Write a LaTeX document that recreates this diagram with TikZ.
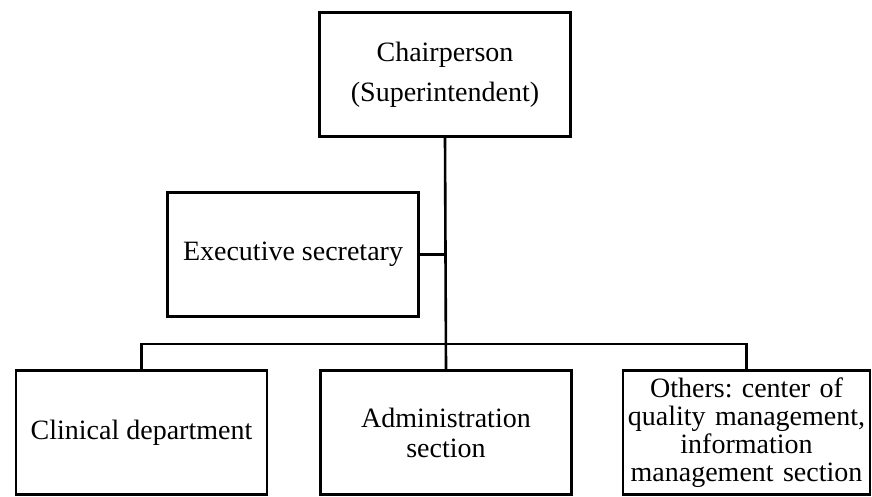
\documentclass[tikz,border=0pt]{standalone}
\usepackage{fontspec}
\setmainfont{Liberation Serif}
\frenchspacing
\usetikzlibrary{positioning,calc}

\begin{document}
\begin{tikzpicture}[
    x=1pt, y=-1pt,
    unit/.style = {rectangle, draw, line width=2.6pt, minimum width=251pt, minimum height=124pt, inner sep=2pt, align=center, font=\fontsize{28}{40}\selectfont}
]
    \useasboundingbox (0,0) rectangle (872,496);
    \node[unit] (chair) at (445,74.5) {Chairperson \\ (Superintendent)};
    \node[unit] (exec) at (293,254.5) {Executive secretary};
    \node[unit] (clinical) at (141.5,432.5) {Clinical department};
    \node[unit, font=\fontsize{28}{30}\selectfont] (admin) at (446,432.5) {Administration \\ section};
    \node[unit, minimum width=247pt, text width=243pt, font=\fontsize{28}{28}\selectfont] (others) at (746.5,432.5) {Others: center of \\ quality management, \\ information \\ management section};
    \coordinate (bus) at (446,344);
    \draw[line width=2.6pt] (chair.south) -- (admin.north);
    \draw[line width=2.6pt] (exec.east) -- (exec.east -| chair.south);
    \draw[line width=2.6pt] (clinical.north) |- (bus) -| (others.north);
\end{tikzpicture}
\end{document}
